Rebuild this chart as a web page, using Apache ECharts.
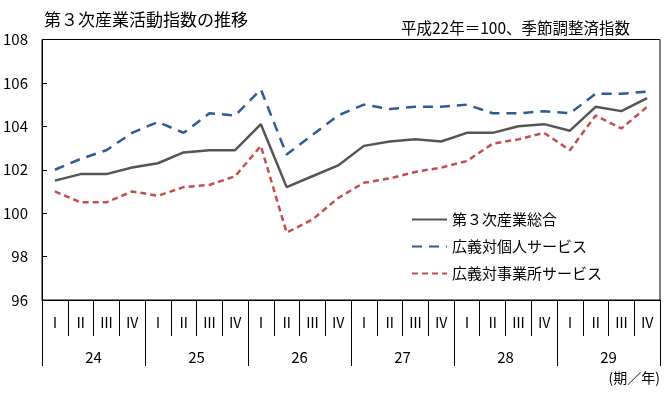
<!DOCTYPE html>
<html><head><meta charset="utf-8">
<script src="https://cdn.jsdelivr.net/npm/echarts@6/dist/echarts.min.js"></script>
<style>html,body{margin:0;padding:0;background:#fff}#c{width:670px;height:395px}</style>
</head><body><div id="c"></div>
<script>
const quarters = ['Ⅰ','Ⅱ','Ⅲ','Ⅳ','Ⅰ','Ⅱ','Ⅲ','Ⅳ','Ⅰ','Ⅱ','Ⅲ','Ⅳ','Ⅰ','Ⅱ','Ⅲ','Ⅳ','Ⅰ','Ⅱ','Ⅲ','Ⅳ','Ⅰ','Ⅱ','Ⅲ','Ⅳ'];
const years = ['24','25','26','27','28','29'];
const yTicks = [96, 108, 2];
const total = [101.5,101.8,101.8,102.1,102.3,102.8,102.9,102.9,104.1,101.2,101.7,102.2,103.1,103.3,103.4,103.3,103.7,103.7,104.0,104.1,103.8,104.9,104.7,105.3];
const personal = [102.0,102.5,102.9,103.7,104.2,103.7,104.6,104.5,105.7,102.7,103.6,104.5,105.0,104.8,104.9,104.9,105.0,104.6,104.6,104.7,104.6,105.5,105.5,105.6];
const business = [101.0,100.5,100.5,101.0,100.8,101.2,101.3,101.7,103.1,99.1,99.7,100.7,101.4,101.6,101.9,102.1,102.4,103.2,103.4,103.7,102.9,104.5,103.9,104.9];
const names = ['第３次産業総合','広義対個人サービス','広義対事業所サービス'];

const FONT = '"Noto Sans CJK JP", "Noto Sans", sans-serif';
const chart = echarts.init(document.getElementById('c'), null, {renderer:'canvas'});
chart.setOption({
  animation:false,
  textStyle:{fontFamily:FONT},
  grid:{left:42,right:10,top:39.5,bottom:95,show:true,borderColor:'#000',borderWidth:1,containLabel:false},
  legend:{
    orient:'vertical', left:406, top:207, itemWidth:35, itemHeight:14, itemGap:12,
    itemStyle:{opacity:0},
    textStyle:{fontFamily:FONT,fontSize:15,color:'#000'},
    data:names
  },
  xAxis:[
    {type:'category',data:quarters,boundaryGap:true,position:'bottom',
     axisLine:{show:true,lineStyle:{color:'#000',width:1}},
     axisTick:{show:true,interval:0,length:36,lineStyle:{color:'#000'}},
     axisLabel:{interval:0,margin:16,fontSize:14,color:'#000',fontFamily:FONT}},
    {type:'category',data:years,boundaryGap:true,position:'bottom',gridIndex:0,
     axisLine:{show:false},
     axisTick:{show:true,interval:0,length:66,lineStyle:{color:'#000'}},
     axisLabel:{interval:0,margin:50,fontSize:15,color:'#000',fontFamily:FONT}}
  ],
  yAxis:{type:'value',min:yTicks[0],max:yTicks[1],interval:yTicks[2],
    axisLine:{show:true,lineStyle:{color:'#000'}},
    axisTick:{show:true,inside:true,length:5,lineStyle:{color:'#000'}},
    splitLine:{show:false},
    axisLabel:{fontSize:15,color:'#000',margin:14,fontFamily:FONT}},
  series:[
    {name:names[0],type:'line',data:total,symbol:'none',xAxisIndex:0,
     lineStyle:{color:'#555555',width:2.5,type:'solid'},itemStyle:{color:'#555555'}},
    {name:names[1],type:'line',data:personal,symbol:'none',xAxisIndex:0,
     lineStyle:{color:'#2E5C92',width:2.5,type:[10,7]},itemStyle:{color:'#2E5C92'}},
    {name:names[2],type:'line',data:business,symbol:'none',xAxisIndex:0,
     lineStyle:{color:'#C0504D',width:2.5,type:[6,4]},itemStyle:{color:'#C0504D'}}
  ],
  graphic:[
    {type:'text',left:44,top:11,style:{text:'第３次産業活動指数の推移',fontSize:17,fontFamily:FONT,fill:'#000'}},
    {type:'text',right:40,top:20,style:{text:'平成22年＝100、季節調整済指数',fontSize:15.5,fontFamily:FONT,fill:'#000'}},
    {type:'text',right:10,top:371,style:{text:'(期／年)',fontSize:14,fontFamily:FONT,fill:'#000'}}
  ]
});
</script></body></html>
